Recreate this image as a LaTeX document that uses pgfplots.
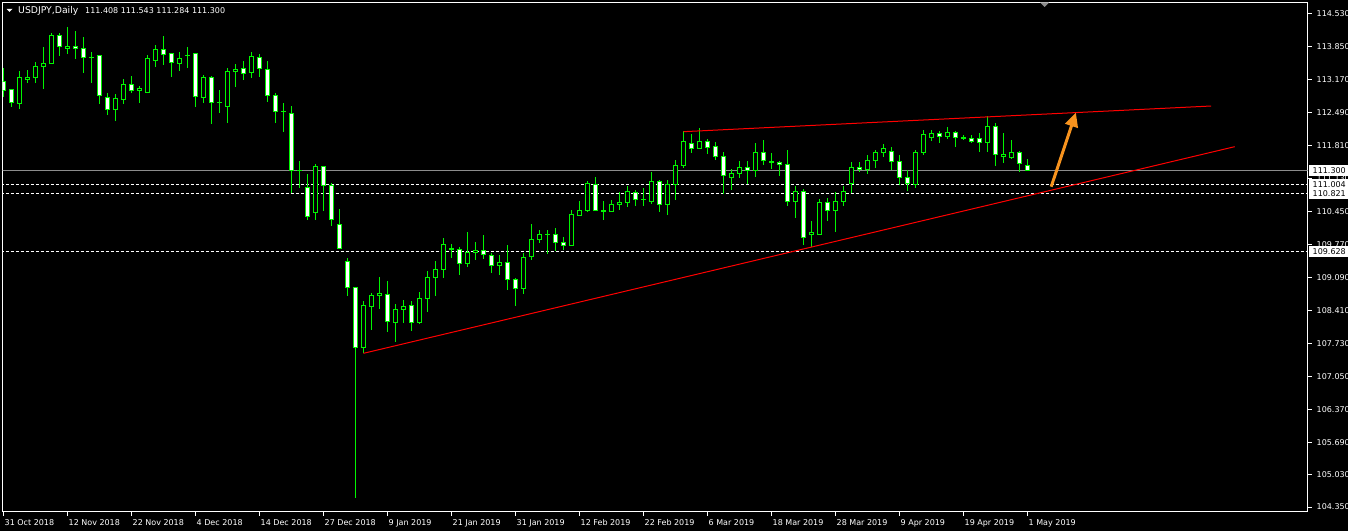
\documentclass[border=0pt]{standalone}
\usepackage{fontspec}
\setmainfont{DejaVu Sans}
\usepackage{pgfplots}
\pgfplotsset{compat=1.18}
\usepackage{pgfplotstable}
\usetikzlibrary{arrows.meta}

\definecolor{mtgreen}{RGB}{0,245,0}
\definecolor{mtorange}{RGB}{247,147,30}
\definecolor{mtgray}{RGB}{140,140,140}

% daily candles, i = bar index (8 px apart), o h l c
\pgfplotstableread{
i o h l c
0 113.126 113.415 112.816 112.940
1 112.961 112.981 112.610 112.692
2 112.672 113.353 112.568 113.229
3 113.188 113.374 113.105 113.229
4 113.229 113.539 113.105 113.456
5 113.456 113.849 112.981 113.518
6 113.518 114.138 113.498 114.096
7 114.096 114.138 113.663 113.849
8 113.828 114.262 113.704 113.869
9 113.869 114.179 113.601 113.828
10 113.828 114.055 113.312 113.642
11 113.642 113.745 113.105 113.640
12 113.663 113.680 112.672 112.857
13 112.816 112.899 112.444 112.568
14 112.568 112.878 112.321 112.795
15 112.775 113.188 112.672 113.085
16 113.085 113.250 112.899 112.961
17 112.961 113.043 112.692 113.002
18 112.919 113.683 112.910 113.601
19 113.580 113.890 113.436 113.807
20 113.807 114.076 113.477 113.704
21 113.704 113.725 113.229 113.518
22 113.518 113.745 113.353 113.601
23 113.683 113.849 113.415 113.680
24 113.704 113.715 112.610 112.816
25 112.816 113.270 112.692 113.229
26 113.229 113.250 112.259 112.713
27 112.713 112.961 112.486 112.713
28 112.630 113.415 112.279 113.353
29 113.353 113.498 113.023 113.394
30 113.415 113.559 113.167 113.312
31 113.312 113.745 113.208 113.642
32 113.642 113.704 113.229 113.415
33 113.374 113.559 112.713 112.857
34 112.857 112.899 112.279 112.527
35 112.527 112.692 112.093 112.510
36 112.486 112.630 110.834 111.309
37 111.309 111.495 110.937 111.290
38 110.952 111.226 110.283 110.353
39 110.435 111.433 110.283 111.385
40 111.385 111.400 110.468 110.985
41 110.993 111.034 110.153 110.291
42 110.188 110.504 109.680 109.692
43 109.424 109.492 108.713 108.887
44 108.887 108.899 104.542 107.648
45 107.648 108.598 107.524 108.515
46 108.494 108.763 108.005 108.722
47 108.722 109.100 108.445 108.763
48 108.742 109.017 107.970 108.177
49 108.156 108.542 107.764 108.433
50 108.433 108.625 108.156 108.494
51 108.515 108.598 107.991 108.156
52 108.156 108.784 108.135 108.660
53 108.660 109.217 108.383 109.093
54 109.093 109.430 108.701 109.258
55 109.258 109.905 109.073 109.775
56 109.690 109.775 109.486 109.675
57 109.671 109.713 109.147 109.382
58 109.382 110.029 109.306 109.609
59 109.609 109.816 109.444 109.651
60 109.651 109.961 109.465 109.568
61 109.548 109.589 109.176 109.341
62 109.341 109.548 109.135 109.403
63 109.403 109.754 108.825 109.052
64 109.052 109.073 108.507 108.866
65 108.866 109.589 108.742 109.506
66 109.527 110.188 109.444 109.878
67 109.878 110.070 109.795 109.981
68 109.981 110.070 109.568 109.975
69 109.981 110.105 109.630 109.816
70 109.816 109.919 109.651 109.754
71 109.754 110.477 109.733 110.394
72 110.373 110.669 110.353 110.477
73 110.477 111.076 110.435 111.034
74 111.014 111.158 110.470 110.477
75 110.477 110.669 110.270 110.470
76 110.456 110.683 110.435 110.601
77 110.601 110.848 110.477 110.642
78 110.642 110.972 110.539 110.869
79 110.848 110.890 110.559 110.704
80 110.704 110.931 110.559 110.700
81 110.663 111.268 110.601 111.076
82 111.076 111.096 110.435 110.601
83 110.601 111.096 110.373 111.014
84 111.014 111.509 110.683 111.406
85 111.406 112.108 111.344 111.901
86 111.860 112.046 111.654 111.757
87 111.757 112.170 111.736 111.901
88 111.901 111.943 111.633 111.778
89 111.798 111.881 111.509 111.592
90 111.592 111.674 110.807 111.199
91 111.158 111.323 110.890 111.241
92 111.241 111.488 111.137 111.365
93 111.365 111.488 111.014 111.303
94 111.303 111.860 111.158 111.674
95 111.674 111.922 111.406 111.509
96 111.480 111.654 111.323 111.470
97 111.468 111.488 111.179 111.427
98 111.427 111.716 110.559 110.663
99 110.663 110.972 110.312 110.869
100 110.869 110.910 109.754 109.919
101 109.981 110.250 109.725 110.022
102 109.981 110.704 109.975 110.642
103 110.642 110.725 110.250 110.477
104 110.477 110.848 110.022 110.663
105 110.663 110.972 110.559 110.869
106 111.034 111.468 110.828 111.365
107 111.365 111.468 111.261 111.323
108 111.323 111.612 111.220 111.509
109 111.509 111.716 111.356 111.674
110 111.674 111.839 111.571 111.757
111 111.695 111.778 111.303 111.488
112 111.488 111.612 110.993 111.158
113 111.158 111.303 110.869 111.034
114 111.014 111.716 110.931 111.674
115 111.674 112.129 111.612 112.046
116 111.984 112.129 111.901 112.067
117 112.067 112.108 111.860 112.005
118 112.005 112.191 111.943 112.087
119 112.087 112.108 111.778 111.984
120 111.975 112.025 111.922 111.965
121 111.963 112.025 111.860 111.901
122 111.963 112.067 111.674 111.881
123 111.881 112.418 111.674 112.211
124 112.211 112.273 111.385 111.633
125 111.592 112.067 111.447 111.633
126 111.571 111.922 111.530 111.674
127 111.674 111.695 111.261 111.447
128 111.408 111.543 111.284 111.300
}\candles

\begin{document}
\begin{tikzpicture}[font=\fontsize{8}{9.6}\selectfont]
\path[use as bounding box, fill=black] (0,0) rectangle (1348pt,531pt);
\begin{axis}[
    at={(2.5pt,19.5pt)}, anchor=south west,
    width=1305pt, height=509pt, scale only axis,
    xmin=-0.125, xmax=163,
    ymin=104.258, ymax=114.767,
    axis line style={white, line width=1pt},
    tick align=outside,
    major tick length=4pt,
    tick style={white, line width=1pt},
    xtick pos=left, ytick pos=right,
    yticklabel pos=right,
    xtick={0,8,...,128},
    xticklabels={31 Oct 2018,12 Nov 2018,22 Nov 2018,4 Dec 2018,14 Dec 2018,27 Dec 2018,9 Jan 2019,21 Jan 2019,31 Jan 2019,12 Feb 2019,22 Feb 2019,6 Mar 2019,18 Mar 2019,28 Mar 2019,9 Apr 2019,19 Apr 2019,1 May 2019},
    xticklabel style={anchor=north west, inner sep=0pt, xshift=1pt, yshift=-4pt, text=white},
    ytick={114.530,113.850,113.170,112.490,111.810,111.130,110.450,109.770,109.090,108.410,107.730,107.050,106.370,105.690,105.030,104.350},
    yticklabels={114.530,113.850,113.170,112.490,111.810,111.130,110.450,109.770,109.090,108.410,107.730,107.050,106.370,105.690,105.030,104.350},
    yticklabel style={anchor=west, inner sep=0pt, xshift=5pt, text=white},
    extra y ticks={111.300,111.004,110.821,109.628},
    extra y tick labels={111.300,111.004,110.821,109.628},
    extra y tick style={major tick length=0pt,
        yticklabel style={fill=white, text=black, inner xsep=4pt, inner ysep=2.5pt, xshift=-4pt}},
    candle/.style={draw=none, mark=none, error bars/.cd, y dir=both, y explicit, error mark=none},
]
% level lines
\addplot[mtgray, line width=1pt] coordinates {(-1,111.300) (170,111.300)};
\addplot[white, line width=1pt, dash pattern=on 3pt off 2pt] coordinates {(-1,111.004) (170,111.004)};
\addplot[white, line width=1pt, dash pattern=on 3pt off 2pt] coordinates {(-1,110.821) (170,110.821)};
\addplot[white, line width=1pt, dash pattern=on 3pt off 2pt] coordinates {(-1,109.628) (170,109.628)};

% wicks
\addplot[candle, error bar style={draw=mtgreen, solid, line width=1.1pt}]
    table[x=i, y expr={(\thisrow{h}+\thisrow{l})/2}, y error expr={(\thisrow{h}-\thisrow{l})/2}] {\candles};
% body outline
\addplot[candle, error bar style={draw=mtgreen, solid, line width=5pt}]
    table[x=i, y expr={(\thisrow{o}+\thisrow{c})/2}, y error expr={abs(\thisrow{o}-\thisrow{c})/2+0.0103}] {\candles};
% bull bodies hollow
\addplot[candle, error bar style={draw=black, solid, line width=3pt},
    /pgfplots/restrict expr to domain={\thisrow{c}-\thisrow{o}}{0.025:100}]
    table[x=i, y expr={(\thisrow{o}+\thisrow{c})/2}, y error expr={abs(\thisrow{o}-\thisrow{c})/2-0.0103}] {\candles};
% bear bodies white
\addplot[candle, error bar style={draw=white, solid, line width=3pt},
    /pgfplots/restrict expr to domain={\thisrow{o}-\thisrow{c}}{0.025:100}]
    table[x=i, y expr={(\thisrow{o}+\thisrow{c})/2}, y error expr={abs(\thisrow{o}-\thisrow{c})/2-0.0103}] {\candles};

% trend lines
\addplot[red, line width=1pt] coordinates {(45,107.524) (153.9,111.790)};
\addplot[red, line width=1pt] coordinates {(85,112.100) (150.96,112.630)};
% arrow
\addplot[mtorange, line width=3pt, -{Triangle[length=14pt,width=13pt]}] coordinates {(130.96,110.964) (134.05,112.492)};
\end{axis}
\fill[white] (6.5pt,522pt) -- (12.5pt,522pt) -- (9.5pt,519pt) -- cycle;
\node[anchor=west, inner sep=0pt, text=white, font=\fontsize{9.3}{10}\selectfont] at (18pt,520.5pt) {USDJPY,Daily};
\node[anchor=west, inner sep=0pt, text=white] at (85pt,520.5pt) {111.408 111.543 111.284 111.300};
\fill[mtgray] (1040pt,528.5pt) -- (1049pt,528.5pt) -- (1044.5pt,524pt) -- cycle;
\end{tikzpicture}
\end{document}
